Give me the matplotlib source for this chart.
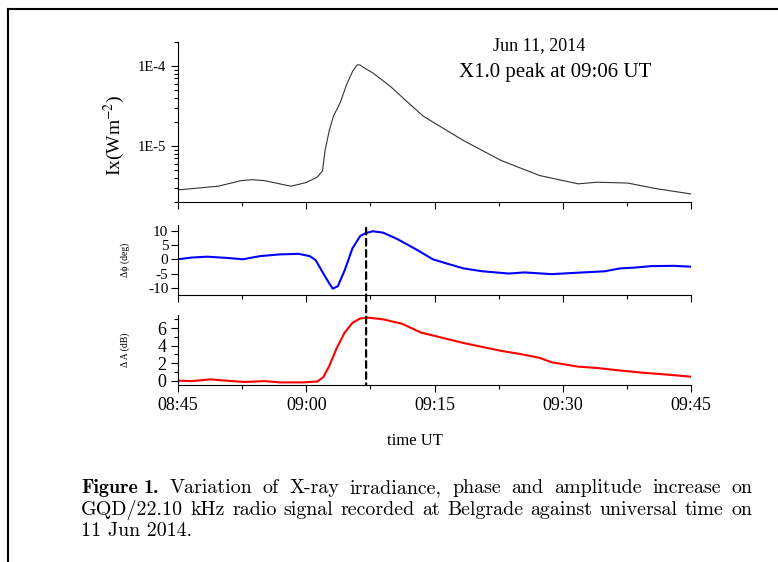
import numpy as np
import matplotlib
matplotlib.use("Agg")
import matplotlib.pyplot as plt
from matplotlib.lines import Line2D
from matplotlib.patches import ConnectionPatch
from matplotlib.ticker import FixedLocator, MultipleLocator, LogLocator, NullFormatter

plt.rcParams['font.family'] = ['Liberation Serif', 'DejaVu Serif']
plt.rcParams['mathtext.fontset'] = 'stix'

# time in minutes after 08:45 UT
t_xray = [0, 4.7, 7.4, 8.7, 10.1, 13.2, 15.0, 16.3, 16.9, 17.2, 17.7, 18.2, 18.6, 19.0,
          19.7, 20.4, 20.8, 21.0, 21.3, 21.7, 22.8, 24.9, 26.6, 28.7, 29.8, 33.4,
          37.8, 42.3, 46.8, 49.0, 52.6, 55.8, 60.0]
xray = [2.83e-6, 3.15e-6, 3.7e-6, 3.8e-6, 3.7e-6, 3.15e-6, 3.5e-6, 4.1e-6, 4.9e-6,
        8.8e-6, 1.58e-5, 2.4e-5, 2.9e-5, 3.56e-5, 5.8e-5, 8.5e-5, 9.9e-5, 1.04e-4,
        1.03e-4, 9.6e-5, 8.2e-5, 5.5e-5, 3.74e-5, 2.36e-5, 2.0e-5, 1.17e-5, 6.6e-6,
        4.28e-6, 3.37e-6, 3.53e-6, 3.45e-6, 2.95e-6, 2.52e-6]

t_phase = [0, 1.6, 3.4, 5.6, 7.6, 8.5, 9.6, 11.9, 14.1, 15.4, 16.1, 17.0, 17.7, 18.1,
           18.7, 19.5, 20.4, 21.3, 21.9, 22.8, 24.0, 25.7, 28.0, 29.8, 31.1, 33.4,
           35.6, 38.7, 40.5, 43.7, 46.8, 49.9, 51.7, 53.5, 55.3, 58.0, 60.0]
phase = [0, 0.6, 0.9, 0.5, 0, 0.5, 1.1, 1.7, 1.9, 1.1, -0.3, -5.0, -8.5, -10.3,
         -9.4, -3.8, 3.8, 8.1, 9.1, 9.8, 9.3, 7.0, 3.2, 0, -1.2, -3.2, -4.2, -5.0,
         -4.6, -5.2, -4.7, -4.2, -3.2, -2.9, -2.4, -2.3, -2.6]

t_amp = [0, 1.6, 3.8, 5.6, 7.8, 10.1, 11.9, 14.6, 16.3, 17.0, 17.7, 18.6, 19.5, 20.4,
         21.3, 22.2, 24.0, 26.2, 28.4, 31.1, 33.4, 37.8, 40.0, 42.3, 43.7, 46.8,
         49.0, 51.3, 54.4, 57.1, 60.0]
amp = [0, -0.05, 0.15, 0, -0.15, -0.05, -0.2, -0.2, -0.1, 0.4, 1.7, 3.8, 5.5, 6.6,
       7.1, 7.2, 7.0, 6.5, 5.5, 4.85, 4.3, 3.4, 3.05, 2.6, 2.1, 1.6, 1.45, 1.2,
       0.9, 0.7, 0.45]

t_ticks = [0, 15, 30, 45, 60]
t_labels = ["08:45", "09:00", "09:15", "09:30", "09:45"]
t_peak = 22  # 09:07 marker

caption = ["Variation of X-ray irradiance, phase and amplitude increase on",
           "GQD/22.10 kHz radio signal recorded at Belgrade against universal time on",
           "11 Jun 2014."]

fig = plt.figure(figsize=(7.78, 5.62), dpi=100)
ax1 = fig.add_axes([0.2288, 0.6406, 0.6594, 0.2847])
ax2 = fig.add_axes([0.2288, 0.4751, 0.6594, 0.1246])
ax3 = fig.add_axes([0.2288, 0.3149, 0.6594, 0.1246])

for ax in (ax1, ax2, ax3):
    for s in ('top', 'right'):
        ax.spines[s].set_visible(False)
    ax.set_xlim(0, 60)
    ax.xaxis.set_major_locator(FixedLocator(t_ticks))
    ax.xaxis.set_minor_locator(MultipleLocator(7.5))
    ax.tick_params(which='major', direction='out', length=5, width=0.8, labelsize=13)
    ax.tick_params(which='minor', direction='out', length=3, width=0.8)

ax1.plot(t_xray, xray, color='#333333', lw=0.8)
ax1.set_yscale('log')
ax1.set_ylim(2e-6, 2e-4)
ax1.yaxis.set_major_locator(FixedLocator([1e-5, 1e-4]))
ax1.set_yticklabels(["1E-5", "1E-4"])
ax1.tick_params(axis='y', labelsize=10.5)
ax1.yaxis.set_minor_locator(LogLocator(base=10, subs=np.arange(2, 10)))
ax1.yaxis.set_minor_formatter(NullFormatter())
ax1.set_xticklabels([])
ax1.set_ylabel("Ix(Wm$^{-2}$)", fontsize=14)
ax1.yaxis.set_label_coords((127 - 178) / 513, 0.42)
ax1.text((539 - 178) / 513, (202 - 46) / 160, "Jun 11, 2014", transform=ax1.transAxes,
         ha='center', va='center', fontsize=13)
ax1.text((555 - 178) / 513, (202 - 73) / 160, "X1.0 peak at 09:06 UT",
         transform=ax1.transAxes, ha='center', va='center', fontsize=15)

ax2.plot(t_phase, phase, color='blue', lw=1.5)
ax2.set_ylim(-12.5, 12)
ax2.set_yticks([-10, -5, 0, 5, 10])
ax2.set_yticklabels(["-10", "-5", "0", "5", "10"])
ax2.tick_params(axis='y', labelsize=11, pad=2)
ax2.set_xticklabels([])
ax2.set_ylabel("Δϕ (deg)", fontsize=7)

ax3.plot(t_amp, amp, color='red', lw=1.5)
ax3.set_ylim(-0.5, 7.5)
ax3.set_yticks([0, 2, 4, 6])
ax3.yaxis.set_minor_locator(MultipleLocator(1))
ax3.set_xticklabels(t_labels)
ax3.set_xlabel("time UT", fontsize=12)
ax3.xaxis.set_label_coords((415 - 178) / 513, (385 - 433) / 70)
ax3.set_ylabel("Δ A (dB)", fontsize=7)
ax2.yaxis.set_label_coords((130 - 178) / 513, 0.5)
ax3.yaxis.set_label_coords((130 - 178) / 513, 0.5)

con = ConnectionPatch(xyA=(t_peak, 11.0), coordsA=ax2.transData,
                      xyB=(t_peak, -0.5), coordsB=ax3.transData,
                      color='black', lw=1.6, linestyle=(0, (3, 2)))
fig.add_artist(con)

# page frame
fig.add_artist(Line2D([8 / 778, 8 / 778], [0, 1 - 9 / 562], color='black', lw=1.5))
fig.add_artist(Line2D([8 / 778, 1], [1 - 9 / 562, 1 - 9 / 562], color='black', lw=1.5))

# caption, the first two lines set word by word so they are justified
W = 778.0
cap_left, cap_right = 81, 752
cap_size = 14.4
renderer = fig.canvas.get_renderer()


def justify(words, y, x0, bold_first=False):
    arts = []
    for i, w in enumerate(words):
        fam = 'cmb10' if (bold_first and i < 2) else 'cmr10'
        arts.append(fig.text(0, 1 - y / 562, w, fontfamily=fam, fontsize=cap_size,
                             va='center'))
    widths = [a.get_window_extent(renderer).width for a in arts]
    if bold_first:
        # keep "Figure 1." together, a wider gap after it
        gap = (cap_right - x0 - sum(widths) - 6) / (len(words) - 2)
        gaps = [6] + [gap] * (len(words) - 2)
    else:
        gap = (cap_right - x0 - sum(widths)) / (len(words) - 1)
        gaps = [gap] * (len(words) - 1)
    x = x0
    for i, a in enumerate(arts):
        a.set_x(x / W)
        x += widths[i] + (gaps[i] if i < len(gaps) else 0)


justify(["Figure", "1."] + caption[0].split(), 488, cap_left, bold_first=True)
justify(caption[1].split(), 510, cap_left)
fig.text(cap_left / W, 1 - 531 / 562, caption[2], fontfamily='cmr10',
         fontsize=cap_size, va='center')

fig.savefig("out.png", dpi=100)
